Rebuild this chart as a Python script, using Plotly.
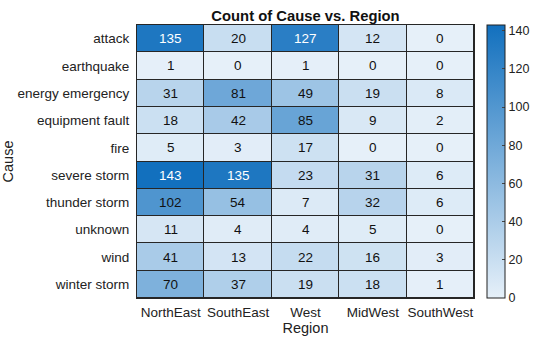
import plotly.graph_objects as go

regions = ["NorthEast", "SouthEast", "West", "MidWest", "SouthWest"]
causes = ["attack", "earthquake", "energy emergency", "equipment fault", "fire",
          "severe storm", "thunder storm", "unknown", "wind", "winter storm"]
counts = [
    [135, 20, 127, 12, 0],
    [1, 0, 1, 0, 0],
    [31, 81, 49, 19, 8],
    [18, 42, 85, 9, 2],
    [5, 3, 17, 0, 0],
    [143, 135, 23, 31, 6],
    [102, 54, 7, 32, 6],
    [11, 4, 4, 5, 0],
    [41, 13, 22, 16, 3],
    [70, 37, 19, 18, 1],
]
cbar_ticks = [0, 20, 40, 60, 80, 100, 120, 140]

font = "Liberation Sans, Arial, Helvetica, sans-serif"
zmax = max(max(r) for r in counts)

fig = go.Figure(go.Heatmap(
    z=counts, x=regions, y=causes,
    zmin=0, zmax=zmax,
    colorscale=[[0, "#E6F0F9"], [1, "#1270BE"]],
    xgap=1, ygap=1,
    hoverinfo="skip",
    colorbar=dict(
        x=1.0386, xanchor="left", xref="paper", xpad=0, ypad=0,
        y=0, yanchor="bottom", len=1, lenmode="fraction",
        thickness=18, outlinecolor="#222", outlinewidth=1,
        tickvals=cbar_ticks, ticks="inside", ticklen=3, tickcolor="#444",
        tickfont=dict(family=font, size=12.5, color="#222"),
    ),
))

anns = []
for i, c in enumerate(causes):
    for j, r in enumerate(regions):
        v = counts[i][j]
        anns.append(dict(x=r, y=c, text=str(v), showarrow=False,
                         font=dict(family=font, size=13.5,
                                   color="white" if v > 110 else "#111")))

fig.update_layout(
    width=560, height=337,
    margin=dict(l=137, r=86, t=25, b=39, autoexpand=False),
    paper_bgcolor="white", plot_bgcolor="#262626",
    font=dict(family=font, size=13.5, color="#222"),
    title=dict(text="<b>Count of Cause vs. Region</b>", x=0.5, xref="paper",
               xanchor="center", y=1, yref="paper", yanchor="bottom", pad=dict(b=4),
               font=dict(family=font, size=14.8, color="#111")),
    annotations=anns,
    xaxis=dict(showgrid=False, zeroline=False, ticks="", automargin=False,
               ticklabelstandoff=2,
               title=dict(text="Region", standoff=0, font=dict(size=14.5)),
               showline=True, linecolor="#262626", linewidth=1, mirror=True),
    yaxis=dict(showgrid=False, zeroline=False, autorange="reversed", ticks="",
               automargin=False, ticklabelstandoff=4,
               title=dict(text="Cause", standoff=8, font=dict(size=14.5)),
               showline=True, linecolor="#262626", linewidth=1, mirror=True),
)

fig.write_html("out.html")
